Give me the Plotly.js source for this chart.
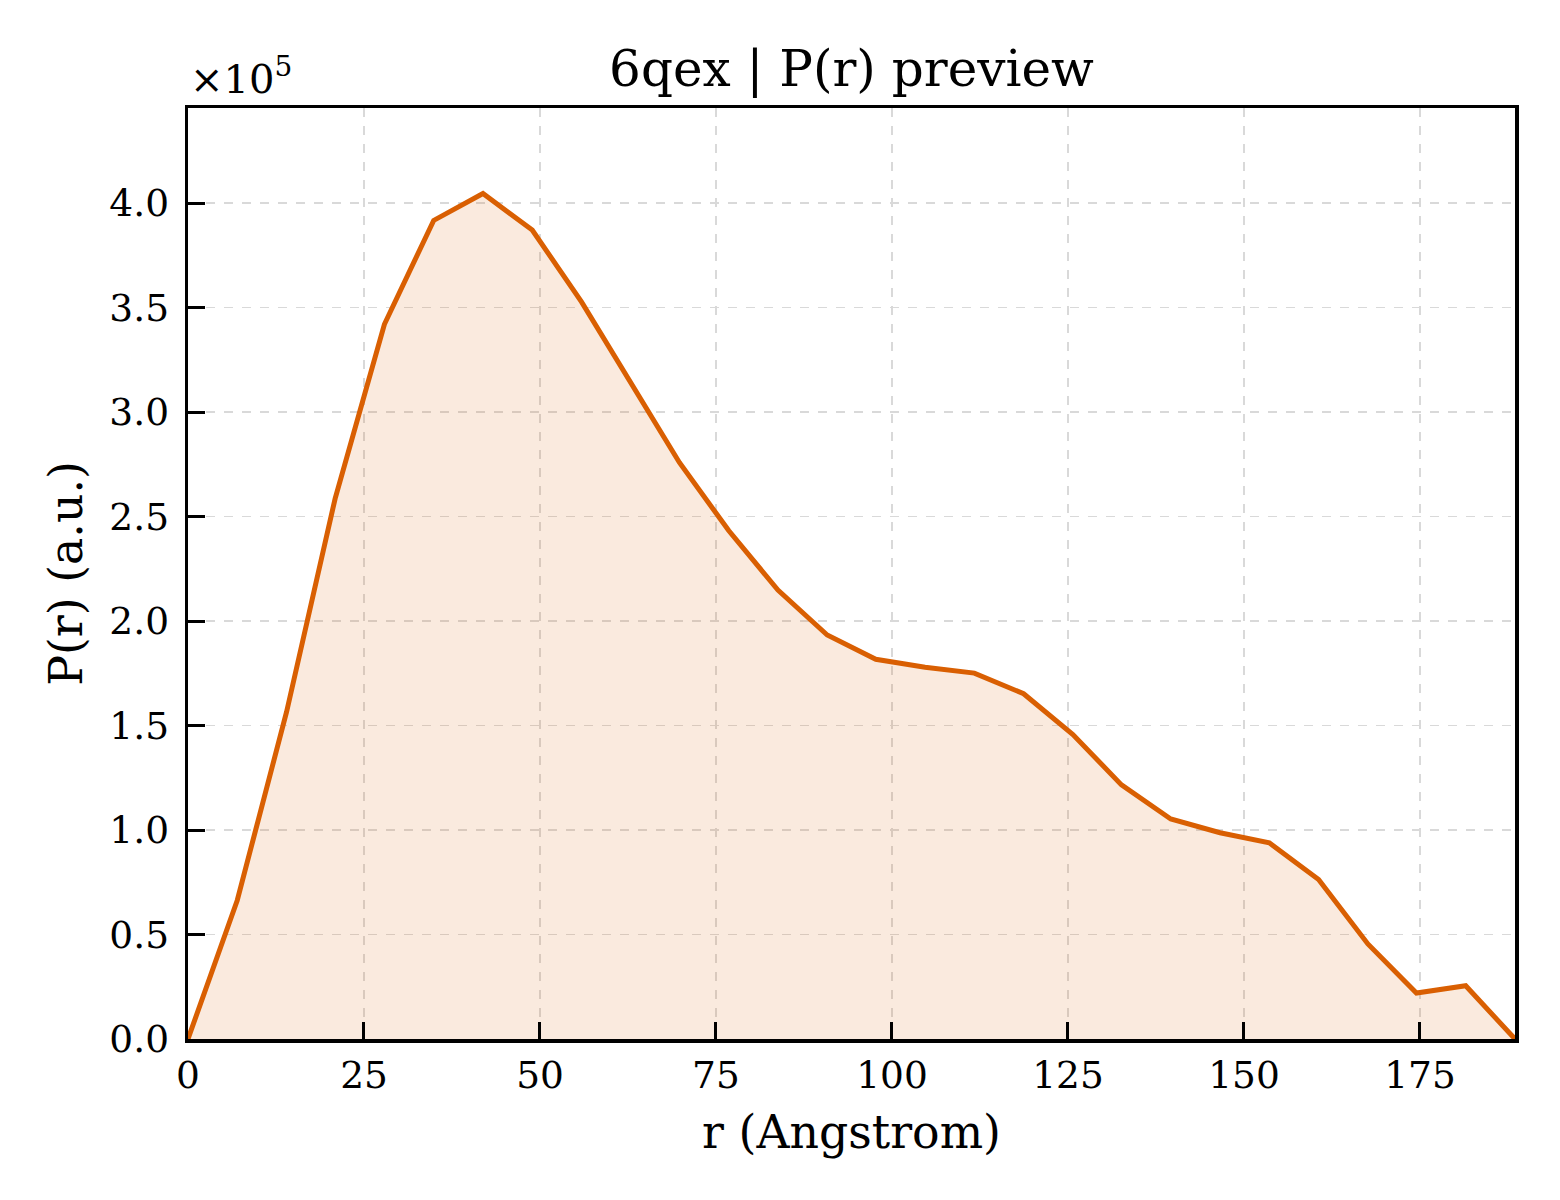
<!DOCTYPE html>
<html>
<head>
<meta charset="utf-8">
<script src="https://cdn.plot.ly/plotly-3.0.1.min.js"></script>
<style>
  html, body { margin: 0; padding: 0; background: #ffffff; }
  #chart { width: 1560px; height: 1200px; }
</style>
</head>
<body>
<div id="chart"></div>
<script>
// r in Angstrom
const rValues = [0, 7.0, 14.0, 20.9, 27.9, 34.9, 41.9, 48.9, 55.9, 62.8, 69.8, 76.8, 83.8, 90.8,
                 97.7, 104.7, 111.7, 118.7, 125.7, 132.6, 139.6, 146.6, 153.6, 160.6, 167.6, 174.5, 181.5, 188.5];
// P(r) in units of 1e5
const prValues = [0, 0.664, 1.565, 2.586, 3.42, 3.917, 4.046, 3.871, 3.527, 3.14, 2.759, 2.433, 2.148, 1.933,
                  1.817, 1.779, 1.751, 1.652, 1.457, 1.216, 1.053, 0.987, 0.939, 0.763, 0.455, 0.22, 0.255, 0];
const yTickVals = [0, 0.5, 1.0, 1.5, 2.0, 2.5, 3.0, 3.5, 4.0];
const yTickText = ["0.0", "0.5", "1.0", "1.5", "2.0", "2.5", "3.0", "3.5", "4.0"];
const xTickVals = [0, 25, 50, 75, 100, 125, 150, 175];
const xTickText = ["0", "25", "50", "75", "100", "125", "150", "175"];

const FONT = "DejaVu Serif, Liberation Serif, serif";

const trace = {
  x: rValues,
  y: prValues,
  type: "scatter",
  mode: "lines",
  line: { color: "#d95f02", width: 5 },
  fill: "tozeroy",
  fillcolor: "rgba(217,95,2,0.13)",
  hoverinfo: "skip"
};

const axisCommon = {
  showline: true,
  linecolor: "#000000",
  linewidth: 3.5,
  mirror: true,
  ticks: "inside",
  ticklen: 17,
  tickwidth: 3,
  tickcolor: "#000000",
  showgrid: true,
  gridcolor: "#d9d9d9",
  gridwidth: 1.5,
  griddash: "dash",
  zeroline: false,
  layer: "above traces",
  tickfont: { family: FONT, size: 37.5, color: "#000000" }
};

const layout = {
  width: 1560,
  height: 1200,
  paper_bgcolor: "#ffffff",
  plot_bgcolor: "#ffffff",
  margin: { l: 188, r: 45, t: 108, b: 161, pad: 0 },
  showlegend: false,
  title: {
    text: "6qex | P(r) preview",
    font: { family: FONT, size: 50, color: "#000000" },
    xref: "paper", x: 0.5, xanchor: "center",
    yref: "container", y: 1 - 68 / 1200, yanchor: "middle"
  },
  xaxis: Object.assign({}, axisCommon, {
    range: [0, 188.5],
    tickvals: xTickVals,
    ticktext: xTickText,
    ticklabelstandoff: 0,
    title: { text: "r (Angstrom)", font: { family: FONT, size: 45.8, color: "#000000" }, standoff: 21 }
  }),
  yaxis: Object.assign({}, axisCommon, {
    range: [0, 4.455],
    tickvals: yTickVals,
    ticktext: yTickText,
    ticklabelstandoff: 8,
    title: { text: "P(r) (a.u.)", font: { family: FONT, size: 45.8, color: "#000000" }, standoff: 13 }
  }),
  annotations: [{
    text: "×10<sup>5</sup>",
    xref: "paper", yref: "paper",
    x: 0, y: 1,
    xanchor: "left", yanchor: "bottom",
    xshift: 0, yshift: 4,
    showarrow: false,
    font: { family: FONT, size: 40, color: "#000000" }
  }]
};

Plotly.newPlot("chart", [trace], layout, { displayModeBar: false, staticPlot: true });
</script>
</body>
</html>
